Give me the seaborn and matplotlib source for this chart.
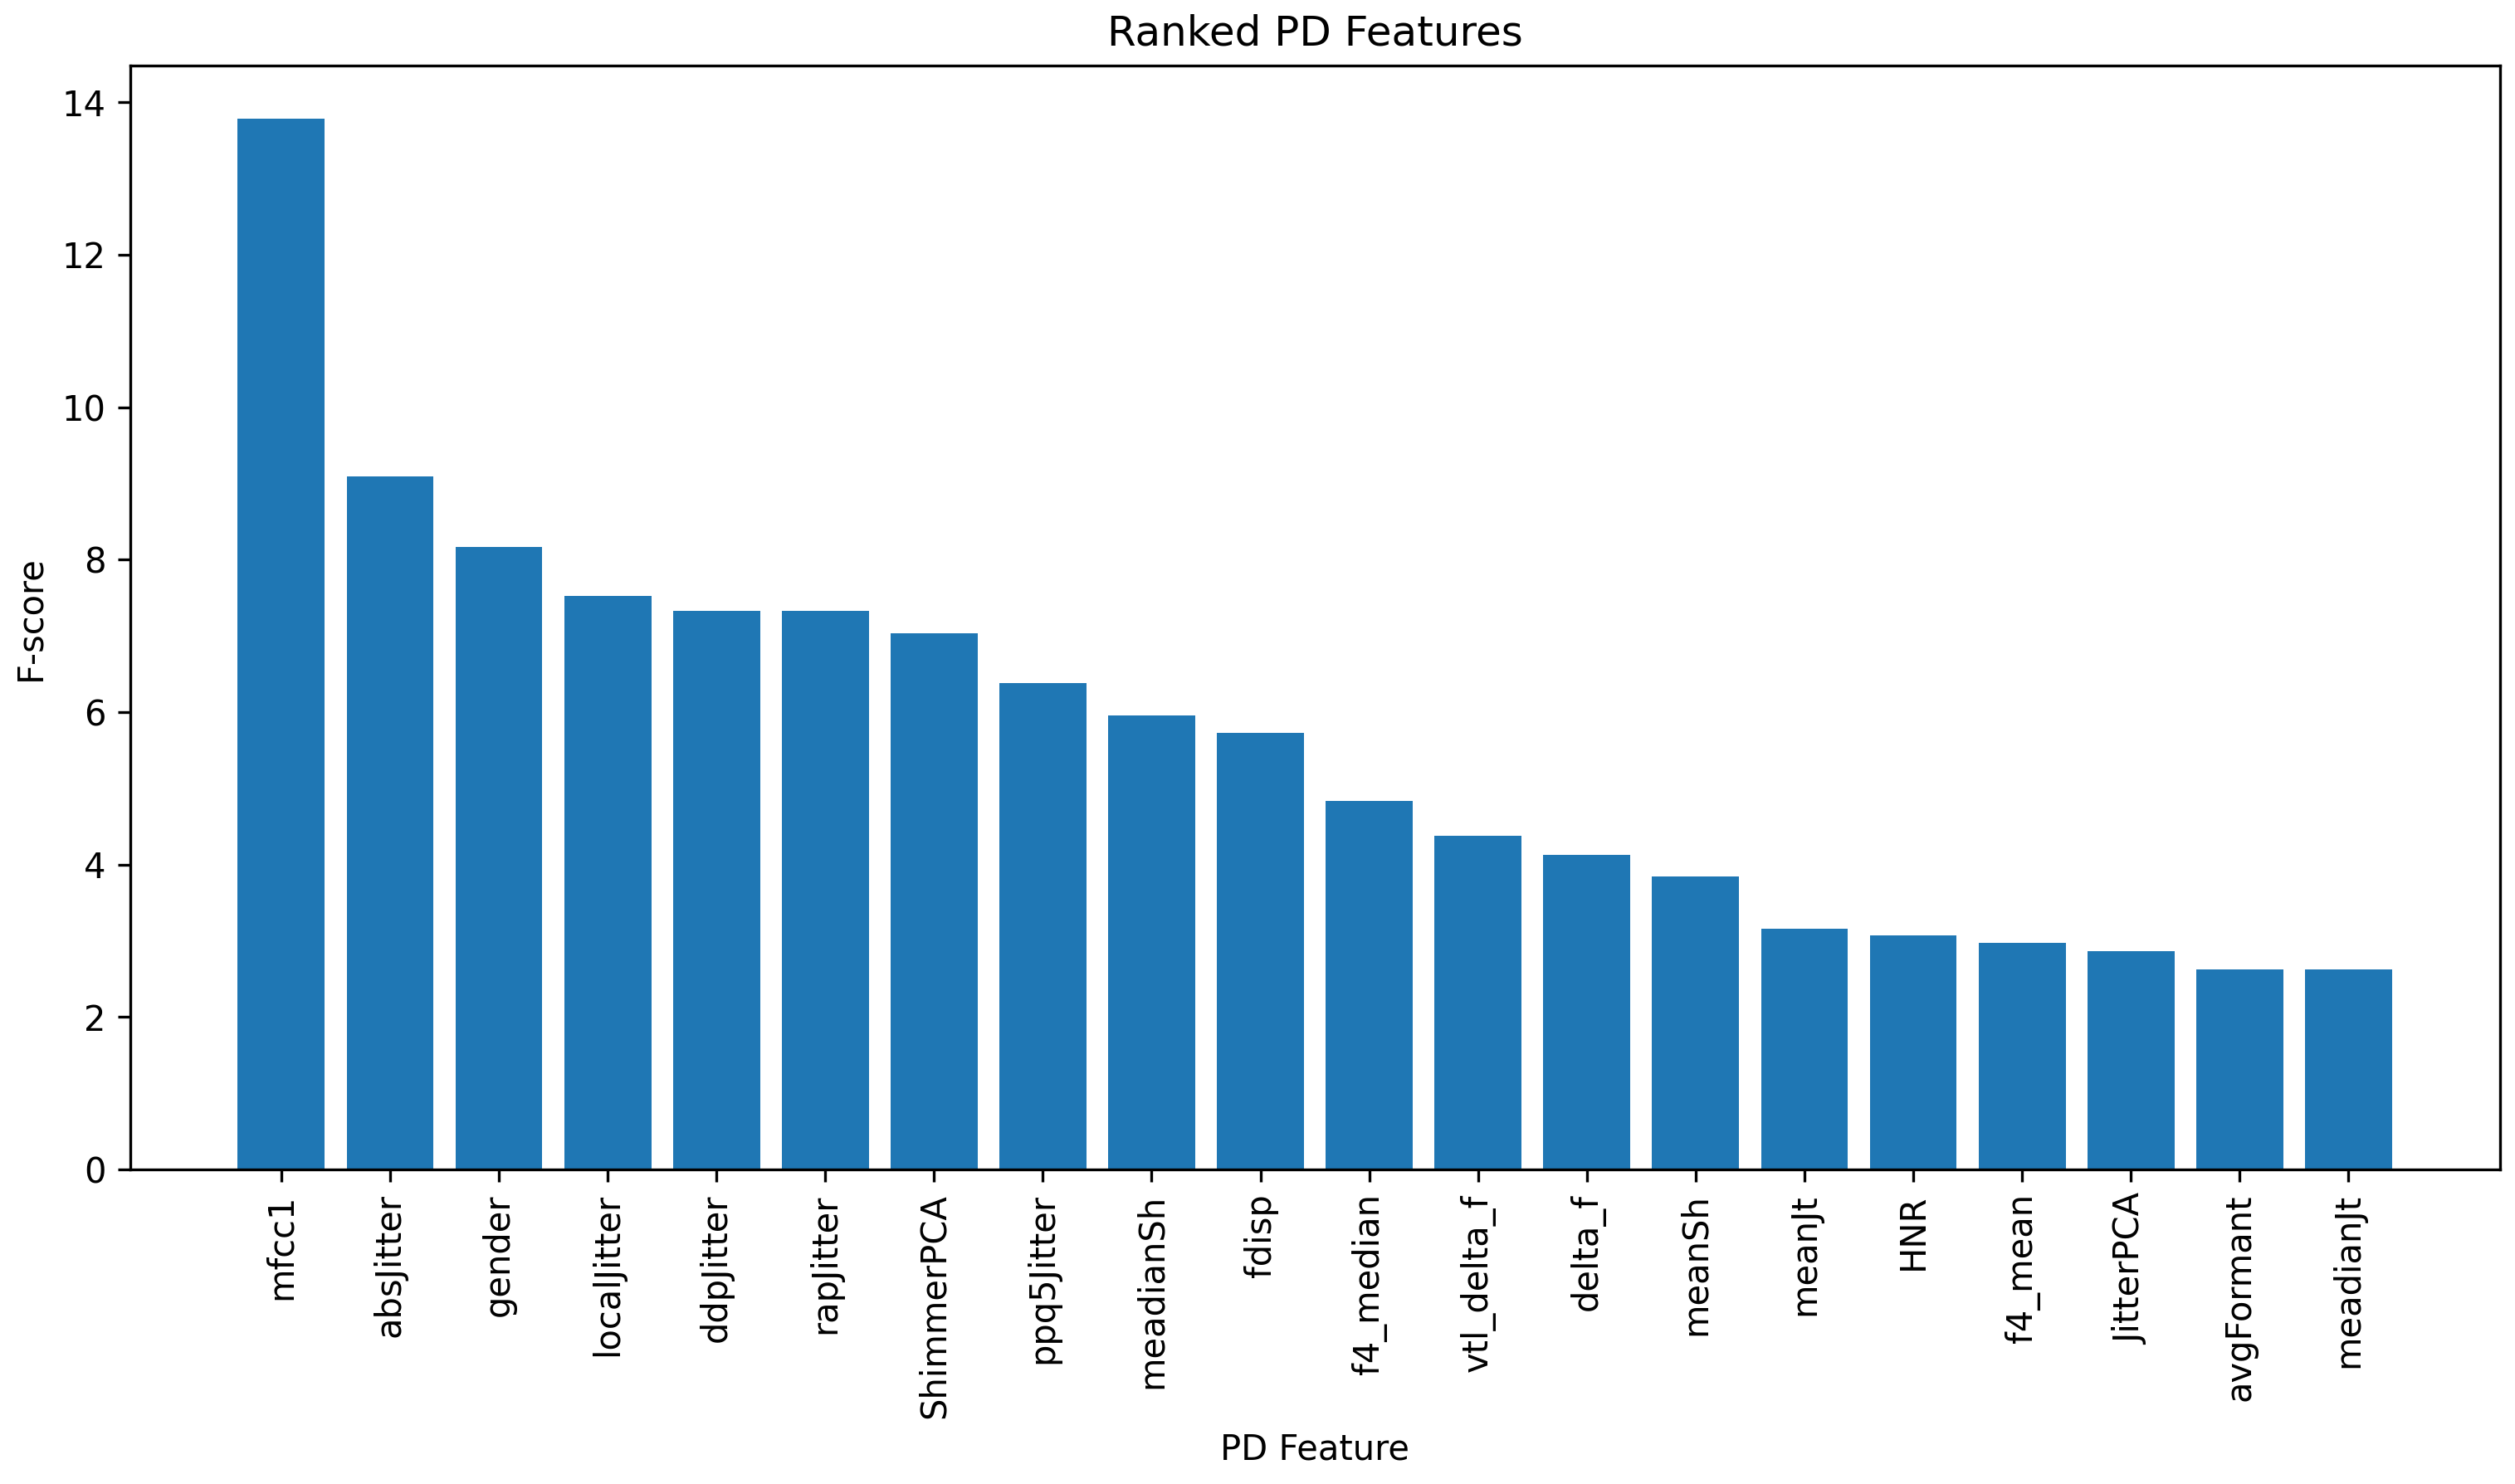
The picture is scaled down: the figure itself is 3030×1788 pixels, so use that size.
import pandas as pd
import seaborn as sns
import matplotlib.pyplot as plt

# -------------------------------
# Data
# -------------------------------
features = ["mfcc1", "absJitter", "gender", "localJitter", "ddpJitter",
            "rapJitter", "ShimmerPCA", "ppq5Jitter", "meadianSh", "fdisp",
            "f4_median", "vtl_delta_f", "delta_f", "meanSh", "meanJt",
            "HNR", "f4_mean", "JitterPCA", "avgFormant", "meadianJt"]
f_scores = [13.79, 9.09, 8.17, 7.52, 7.33,
            7.33, 7.03, 6.38, 5.96, 5.73,
            4.84, 4.38, 4.13, 3.85, 3.16,
            3.07, 2.97, 2.86, 2.63, 2.63]

df = pd.DataFrame({"Feature": features, "F-score": f_scores})

# -------------------------------
# Plot
# -------------------------------
fig = plt.figure(figsize=(10.103, 5.96), dpi=300)
ax = fig.add_axes([0.0517, 0.2119, 0.9419, 0.7438])

sns.barplot(data=df, x="Feature", y="F-score", color="#1f77b4",
            saturation=1, width=0.8, ax=ax)

n = len(features)
pad = 0.05 * (n - 1 + 0.8)
ax.set_xlim(-0.4 - pad, n - 1 + 0.4 + pad)
ax.set_ylim(0, max(f_scores) * 1.05)

plt.xticks(rotation=90)
ax.set_title("Ranked PD Features")
ax.set_xlabel("PD Feature")
ax.set_ylabel("F-score")

fig.savefig("out.png", dpi=300)
plt.close()
